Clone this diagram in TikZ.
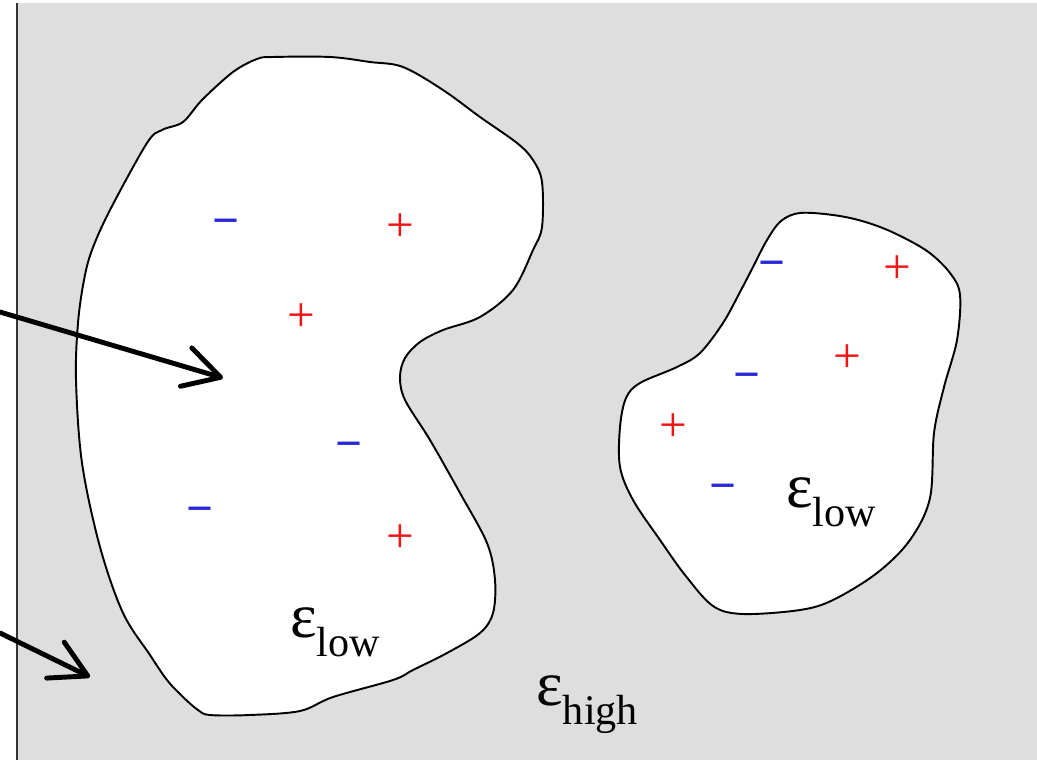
\documentclass[tikz,border=0pt]{standalone}
\usepackage{fontspec}
\setmainfont{Liberation Serif}
\usepackage{xcolor}
\definecolor{panelgray}{RGB}{222,222,222}
\definecolor{chargered}{RGB}{240,20,20}
\definecolor{chargeblue}{RGB}{40,40,215}
\usetikzlibrary{arrows.meta}

\newcommand{\epslab}[1]{ε\raisebox{-11pt}{\fontsize{24}{24}\selectfont #1}}

\begin{document}
\begin{tikzpicture}[
    x=0.02cm, y=-0.02cm,
    font=\fontsize{36}{40}\selectfont,
    blobline/.style={draw=black, line width=1.1pt, fill=white},
    plusmark/.style={inner sep=0pt, text=chargered, font=\fontsize{28}{28}\selectfont},
    minusmark/.style={inner sep=0pt, text=chargeblue, font=\fontsize{27}{27}\selectfont\bfseries},
    epslabel/.style={inner sep=0pt, anchor=base west},
    ptrarrow/.style={line width=2.8pt, line cap=round, -{Straight Barb[length=0.72cm, width=0.8cm, round]}}
  ]
  \useasboundingbox (0,0) rectangle (1037,760);

  % panel and left rule
  \fill[panelgray] (18,3) rectangle (1037,760);
  \draw[line width=1.2pt, black!80] (17,3) -- (17,760);

  % large region
  \draw[blobline] plot[smooth cycle, tension=0.55] coordinates {
    (273,57) (330,57) (370,62) (403,67) (443,90) (480,117) (517,143) (533,160)
    (542,182) (542,227) (533,250) (513,290) (480,317) (443,330) (420,342) (405,358)
    (400,377) (405,400) (430,440) (460,493) (487,543) (495,580) (493,613) (480,633)
    (447,653) (413,670) (393,680) (333,697) (300,711) (250,715) (210,715) (198,710)
    (183,697) (167,680) (150,655) (123,613) (100,547) (82,463) (76,380) (78,323)
    (84,280) (92,250) (110,210) (147,143) (162,130) (183,122) (202,100) (233,72) (257,59)};

  % small region
  \draw[blobline] plot[smooth cycle, tension=0.55] coordinates {
    (800,213) (833,215) (862,221) (892,232) (927,251) (950,273) (960,295) (957,340)
    (944,387) (934,433) (930,498) (910,540) (877,573) (833,600) (800,610) (743,614)
    (713,606) (685,575) (660,540) (633,500) (620,467) (620,427) (626,398) (640,383)
    (677,367) (700,353) (723,323) (740,292) (753,267) (767,240) (781,221)};

  % charges, large region
  \node (m1) [minusmark] at (226,228) {−};
  \node (p1) [plusmark] at (400,228) {+};
  \node (p2) [plusmark] at (301,318) {+};
  \node (m2) [minusmark] at (349,451) {−};
  \node (m3) [minusmark] at (200,516) {−};
  \node (p3) [plusmark] at (400,539) {+};

  % charges, small region
  \node (m4) [minusmark] at (772,270) {−};
  \node (p4) [plusmark] at (897,270) {+};
  \node (p5) [plusmark] at (847,359) {+};
  \node (m5) [minusmark] at (747,382) {−};
  \node (p6) [plusmark] at (673,428) {+};
  \node (m6) [minusmark] at (723,493) {−};

  % permittivity labels
  \node (lowA) [epslabel] at (290,637) {\epslab{low}};
  \node (lowB) [epslabel] at (786,507) {\epslab{low}};
  \node (high) [epslabel] at (536,705) {\epslab{high}};

  % pointers
  \coordinate (srcA) at (0,312);
  \coordinate (tipA) at (223,378);
  \coordinate (srcB) at (0,633);
  \coordinate (tipB) at (90,677);
  \draw[ptrarrow] (srcA) -- (tipA);
  \draw[ptrarrow] (srcB) -- (tipB);

\end{tikzpicture}
\end{document}
